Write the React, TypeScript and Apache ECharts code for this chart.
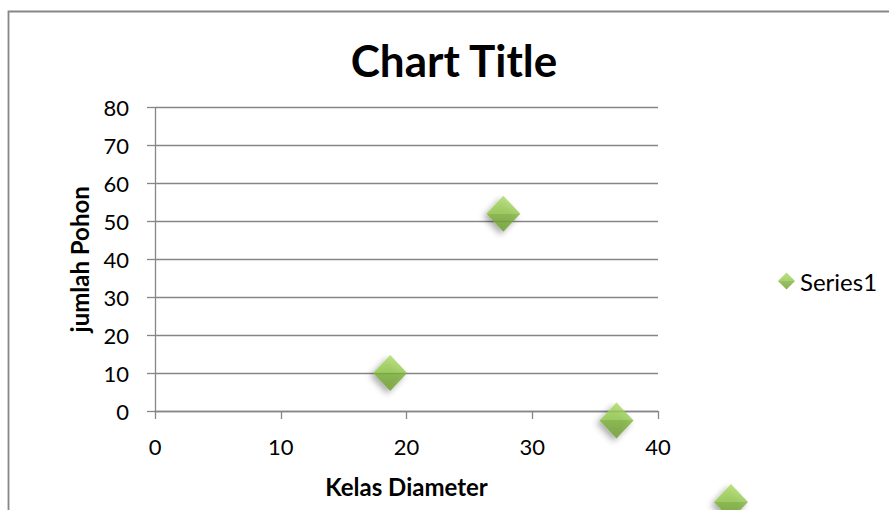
import React, { useEffect, useRef } from "react";
import * as echarts from "echarts";

// Tree counts per diameter class
const kelasDiameter = [18.7, 27.7, 36.7, 45.8];
const jumlahPohon = [10, 52, -2.5, -24];

const xTicks = { min: 0, max: 40, interval: 10 };
const yTicks = { min: 0, max: 80, interval: 10 };

const seriesName = "Series1";
const chartTitle = "Chart Title";
const xName = "Kelas Diameter";
const yName = "jumlah Pohon";

const FONT = "Lato, 'Open Sans', sans-serif";
const GRAY = "#868686";

const diamondFill = new echarts.graphic.LinearGradient(0, 0, 0, 1, [
  { offset: 0, color: "#acd964" },
  { offset: 0.5, color: "#90c64a" },
  { offset: 0.5, color: "#7db23b" },
  { offset: 1, color: "#6a9a2c" },
]);

export default function App() {
  const ref = useRef<HTMLDivElement>(null);

  useEffect(() => {
    if (!ref.current) return;
    const chart = echarts.init(ref.current, null, { renderer: "svg" });
    const points = kelasDiameter.map((x, i) => [x, jumlahPohon[i]]);

    chart.setOption({
      animation: false,
      backgroundColor: "#ffffff",
      title: {
        text: chartTitle,
        left: 449,
        top: 33,
        textAlign: "center",
        textStyle: { fontFamily: FONT, fontWeight: "bold", fontSize: 44, color: "#000" },
      },
      legend: {
        left: 773,
        top: 264,
        icon: "diamond",
        itemWidth: 17,
        itemHeight: 17,
        itemGap: 4,
        textStyle: { fontFamily: FONT, fontSize: 24, color: "#000" },
        data: [seriesName],
      },
      graphic: [
        {
          type: "rect",
          shape: { x: 8.5, y: 11.5, width: 900, height: 520 },
          style: { fill: "none", stroke: GRAY, lineWidth: 1.8 },
          silent: true,
        },
      ],
      grid: { left: 155, right: 231, top: 107.7, bottom: 99 },
      xAxis: {
        type: "value",
        min: xTicks.min,
        max: xTicks.max,
        interval: xTicks.interval,
        name: xName,
        nameLocation: "middle",
        nameGap: 63,
        nameTextStyle: { fontFamily: FONT, fontWeight: "bold", fontSize: 24, color: "#000" },
        axisLine: { show: true, lineStyle: { color: GRAY, width: 1.3 } },
        axisTick: { show: true, length: 8, lineStyle: { color: GRAY, width: 1.3 } },
        axisLabel: { margin: 24, fontFamily: FONT, fontSize: 22, color: "#000" },
        splitLine: { show: false },
      },
      yAxis: {
        type: "value",
        min: yTicks.min,
        max: yTicks.max,
        interval: yTicks.interval,
        name: yName,
        nameLocation: "middle",
        nameGap: 64,
        nameTextStyle: { fontFamily: FONT, fontWeight: "bold", fontSize: 24, color: "#000" },
        axisLine: { show: true, lineStyle: { color: GRAY, width: 1.3 } },
        axisTick: { show: true, length: 8, lineStyle: { color: GRAY, width: 1.3 } },
        axisLabel: { margin: 26, fontFamily: FONT, fontSize: 22, color: "#000" },
        splitLine: { show: true, lineStyle: { color: GRAY, width: 1.3 } },
      },
      series: [
        {
          name: seriesName,
          type: "scatter",
          symbol: "diamond",
          symbolSize: [34, 36],
          clip: false,
          data: points,
          itemStyle: {
            color: diamondFill,
            shadowColor: "rgba(0,0,0,0.4)",
            shadowBlur: 6,
            shadowOffsetX: -3,
            shadowOffsetY: 3,
          },
        },
      ],
    });

    return () => chart.dispose();
  }, []);

  return (
    <div
      ref={ref}
      style={{ position: "fixed", left: 0, top: 0, width: 889, height: 510 }}
    />
  );
}
